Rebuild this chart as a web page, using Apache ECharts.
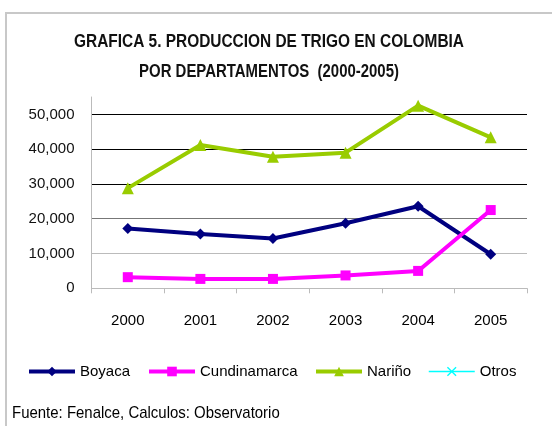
<!DOCTYPE html>
<html lang="es">
<head>
<meta charset="UTF-8">
<title>Produccion de trigo</title>
<style>
  html, body { margin: 0; padding: 0; background: #fff; }
  #chart { width: 552px; height: 426px; }
</style>
</head>
<body>
<div id="chart"></div>
<script src="https://cdn.jsdelivr.net/npm/echarts@6/dist/echarts.min.js"></script>
<script>
  // datos (toneladas)
  var years = ['2000', '2001', '2002', '2003', '2004', '2005'];
  var boyaca = [17200, 15600, 14300, 18700, 23600, 9800];
  var cundinamarca = [3200, 2700, 2700, 3700, 5000, 22500];
  var narino = [28800, 41200, 37800, 39000, 52500, 43400];
  var otros = [null, null, null, null, null, null];

  var FONT = "'Liberation Sans', Arial, sans-serif";
  var crossIcon = 'path://M0,1 L1,0 L5,4 L9,0 L10,1 L6,5 L10,9 L9,10 L5,6 L1,10 L0,9 L4,5 Z';

  var chart = echarts.init(document.getElementById('chart'), null, { renderer: 'canvas' });

  function legendAt(x, name) {
    return {
      left: x,
      top: 364,
      padding: 0,
      itemWidth: 46,
      itemHeight: 12,
      itemGap: 0,
      selectedMode: false,
      data: [name],
      lineStyle: { width: 'inherit' },
      textStyle: { fontFamily: FONT, fontSize: 15, color: '#000' }
    };
  }

  chart.setOption({
    animation: false,
    textStyle: { fontFamily: FONT },
    grid: { left: 91.5, right: 25, top: 97, bottom: 137.7, containLabel: false },
    graphic: [
      {
        type: 'rect',
        shape: { x: 6, y: 13, width: 620, height: 500 },
        style: { fill: 'none', stroke: '#c8c8c8', lineWidth: 2 },
        silent: true
      },
      {
        type: 'text',
        x: 269, y: 42, scaleX: 0.857,
        style: {
          text: 'GRAFICA 5. PRODUCCION DE TRIGO EN COLOMBIA',
          font: 'bold 18px ' + FONT, fill: '#111',
          textAlign: 'center', textVerticalAlign: 'middle'
        }
      },
      {
        type: 'text',
        x: 269, y: 72, scaleX: 0.83,
        style: {
          text: 'POR DEPARTAMENTOS  (2000-2005)',
          font: 'bold 18px ' + FONT, fill: '#111',
          textAlign: 'center', textVerticalAlign: 'middle'
        }
      },
      {
        type: 'text',
        x: 12, y: 413, scaleX: 0.88,
        style: {
          text: 'Fuente: Fenalce, Calculos: Observatorio',
          font: '17px ' + FONT, fill: '#000',
          textAlign: 'left', textVerticalAlign: 'middle'
        }
      }
    ],
    legend: [
      legendAt(27, 'Boyaca'),
      legendAt(147, 'Cundinamarca'),
      legendAt(314, 'Nariño'),
      legendAt(428, 'Otros')
    ],
    xAxis: {
      type: 'category',
      data: years,
      boundaryGap: true,
      axisLine: { lineStyle: { color: '#bbb', width: 1 } },
      axisTick: { show: true, length: 5, lineStyle: { color: '#bbb' } },
      axisLabel: { fontFamily: FONT, fontSize: 15, color: '#000', margin: 25 }
    },
    yAxis: {
      type: 'value',
      min: 0,
      max: 55000,
      interval: 10000,
      axisLine: { show: true, lineStyle: { color: '#bbb', width: 1 } },
      axisTick: { show: false },
      axisLabel: {
        fontFamily: FONT, fontSize: 15, color: '#111', margin: 17,
        showMaxLabel: false,
        formatter: function (v) { return v === 0 ? '0' : v.toLocaleString('en-US'); }
      },
      splitLine: {
        show: true,
        showMinLine: false,
        showMaxLine: false,
        lineStyle: { color: ['#bbb', '#777', '#000', '#000', '#000', '#000'], width: 1 }
      }
    },
    series: [
      {
        name: 'Boyaca', type: 'line', data: boyaca,
        symbol: 'diamond', symbolSize: 11, showAllSymbol: true,
        lineStyle: { color: '#000080', width: 4 },
        itemStyle: { color: '#000080' },
        emphasis: { disabled: true }
      },
      {
        name: 'Cundinamarca', type: 'line', data: cundinamarca,
        symbol: 'rect', symbolSize: 10,
        lineStyle: { color: '#ff00ff', width: 4 },
        itemStyle: { color: '#ff00ff' },
        emphasis: { disabled: true }
      },
      {
        name: 'Nariño', type: 'line', data: narino,
        symbol: 'triangle', symbolSize: 12,
        lineStyle: { color: '#99cc00', width: 4 },
        itemStyle: { color: '#99cc00' },
        emphasis: { disabled: true }
      },
      {
        name: 'Otros', type: 'line', data: otros,
        symbol: crossIcon, symbolSize: 11,
        lineStyle: { color: '#00ffff', width: 1.5 },
        itemStyle: { color: '#00ffff' },
        emphasis: { disabled: true }
      }
    ]
  });
</script>
</body>
</html>
